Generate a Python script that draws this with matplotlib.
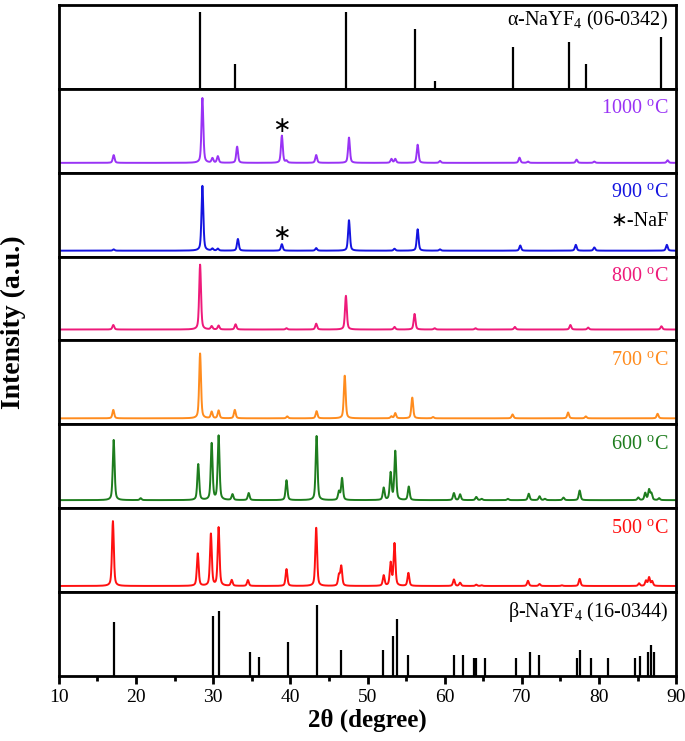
import numpy as np
import matplotlib
matplotlib.use("Agg")
import matplotlib.pyplot as plt
from matplotlib.ticker import MultipleLocator

plt.rcParams['font.family'] = ['Liberation Serif', 'DejaVu Sans']
plt.rcParams['mathtext.fontset'] = 'custom'
plt.rcParams['mathtext.rm'] = 'Liberation Serif'

# --- reference cards (stick patterns) ---
alpha_pos = [28.35, 32.8, 47.2, 56.1, 58.8, 68.9, 76.1, 78.3, 88.0]
alpha_int = [100, 33, 100, 78, 11, 55, 61, 33, 67]

beta_pos = [17.2, 30.0, 30.8, 34.8, 35.9, 39.7, 43.5, 46.6, 52.0, 53.3, 53.8,
            55.3, 61.2, 62.4, 63.8, 64.1, 65.2, 69.2, 71.0, 72.2, 77.1, 77.5,
            79.0, 81.2, 84.7, 85.3, 86.4, 86.7, 87.2]
beta_int = [76, 84, 92, 34, 27, 48, 100, 36, 36, 56, 80,
            30, 29, 29, 25, 25, 25, 25, 34, 29, 25, 36,
            25, 25, 25, 28, 34, 44, 34]

# --- measured patterns: peak positions (2theta) and heights ---
pk_1000 = [17.1, 28.6, 29.9, 30.6, 33.1, 38.9, 39.5, 43.35, 47.6, 53.1, 53.6,
           56.5, 59.4, 69.7, 70.8, 77.1, 79.4, 88.9]
in_1000 = [12, 100, 7, 10, 25, 42, 3, 12, 39, 6, 6,
           28, 3, 8, 2, 5, 2, 4]

pk_900 = [17.1, 28.6, 29.9, 30.6, 33.2, 38.9, 43.35, 47.6, 53.5, 56.5, 59.4,
          69.8, 77.0, 79.4, 88.8]
in_900 = [2, 100, 3, 3, 18, 10, 4, 47, 3, 33, 2,
          8, 9, 5, 9]

pk_800 = [17.05, 28.3, 29.8, 30.7, 32.9, 39.5, 43.35, 47.2, 53.5, 56.1, 58.7,
          64.0, 69.1, 76.3, 78.6, 88.1]
in_800 = [7, 100, 5, 6, 8, 2, 9, 52, 4, 24, 2,
          2, 4, 7, 3, 5]

pk_700 = [17.05, 28.3, 29.8, 30.7, 32.8, 39.6, 43.4, 47.05, 53.1, 53.6, 55.8,
          58.5, 68.8, 76.0, 78.3, 87.6]
in_700 = [13, 100, 10, 12, 13, 3, 11, 66, 3, 8, 32,
          2, 6, 9, 3, 7]

pk_600 = [17.1, 20.6, 28.06, 29.8, 30.7, 32.5, 34.6, 39.5, 43.4, 46.3, 46.7,
          52.1, 53.0, 53.6, 55.35, 61.2, 62.0, 64.1, 64.8, 68.2, 70.9, 72.3,
          73.0, 75.4, 77.5, 85.1, 86.0, 86.5, 86.8, 87.8]
in_600 = [94, 3, 56, 88, 100, 9, 11, 31, 100, 13, 34,
          19, 42, 76, 21, 11, 9, 5, 2, 2, 10, 6,
          2, 4, 15, 4, 11, 16, 10, 3]

pk_500 = [17.0, 28.0, 29.7, 30.7, 32.4, 34.5, 39.5, 43.35, 46.3, 46.6,
          52.1, 53.0, 53.5, 55.3, 61.2, 62.0, 64.1, 64.8, 70.8, 72.3, 75.2,
          77.5, 85.2, 86.1, 86.5, 86.9]
in_500 = [100, 50, 80, 90, 9, 9, 26, 90, 16, 30,
          16, 35, 65, 20, 10, 5, 2, 1, 8, 3, 1,
          11, 4, 8, 13, 7]

samples = [
    ("1000 $^{\\mathrm{o}}$C", pk_1000, in_1000, '#9933F5', 10),
    ("900 $^{\\mathrm{o}}$C", pk_900, in_900, '#1414E0', 6),
    ("800 $^{\\mathrm{o}}$C", pk_800, in_800, '#EE1A7A', 11),
    ("700 $^{\\mathrm{o}}$C", pk_700, in_700, '#FF8C1E', 6),
    ("600 $^{\\mathrm{o}}$C", pk_600, in_600, '#1E7D1E', 8),
    ("500 $^{\\mathrm{o}}$C", pk_500, in_500, '#FF1010', 6),
]

tth = np.arange(10, 90.01, 0.02)


def pattern(pos, inten, fwhm=0.28, eta=0.5):
    # pseudo-Voigt sum of the read-off peaks
    y = np.zeros_like(tth)
    s = fwhm / 2.3548
    g = fwhm / 2
    for p, h in zip(pos, inten):
        G = np.exp(-0.5 * ((tth - p) / s) ** 2)
        L = g ** 2 / ((tth - p) ** 2 + g ** 2)
        y += h * (eta * L + (1 - eta) * G)
    return y


fig = plt.figure(figsize=(6.85, 7.41), dpi=100)
gs = fig.add_gridspec(8, 1, hspace=0, left=0.086, right=0.987, top=0.993, bottom=0.088)
axes = [fig.add_subplot(gs[i]) for i in range(8)]

PANEL_PX = 84.0
PEAK_PX = 65.0

for ax in axes:
    ax.set_xlim(10, 90)
    ax.set_yticks([])
    for sp in ax.spines.values():
        sp.set_linewidth(2)
    ax.tick_params(axis='x', which='both', bottom=False, labelbottom=False)

# alpha card
ax = axes[0]
ax.vlines(alpha_pos, 0, alpha_int, color='black', lw=1.6)
ax.set_ylim(0, 100 / 0.92)
ax.text(0.987, 0.82, "α-NaYF$_4$ (06-0342)", transform=ax.transAxes,
        ha='right', va='center', fontsize=14.5)

for ax, (lab, pos, inten, col, base) in zip(axes[1:7], samples):
    y = pattern(pos, inten)
    y = y / y.max() * 100
    ax.plot(tth, y, color=col, lw=1.4)
    ax.set_ylim(-base / PEAK_PX * 100, (PANEL_PX - base) / PEAK_PX * 100)
    ax.text(0.987, 0.75, lab, transform=ax.transAxes, ha='right', va='center',
            fontsize=14.5, color=col)

# NaF markers
for ax, (lab, pos, inten, col, base) in zip(axes[1:3], samples[:2]):
    y = pattern(pos, inten)
    y = y / y.max() * 100
    h = y[np.argmin(np.abs(tth - 38.9))]
    ax.annotate('∗', (38.9, h), xytext=(0, 0), textcoords='offset points',
                ha='center', va='bottom', fontsize=16, family='DejaVu Sans')
axes[2].text(0.987, 0.42, "∗-NaF", transform=axes[2].transAxes, ha='right',
             va='center', fontsize=14.5, color='black')

# beta card
ax = axes[7]
ax.vlines(beta_pos, 0, beta_int, color='black', lw=1.6)
ax.set_ylim(0, 100 / 0.845)
ax.text(0.987, 0.76, "β-NaYF$_4$ (16-0344)", transform=ax.transAxes,
        ha='right', va='center', fontsize=14.5)
ax.tick_params(axis='x', which='both', bottom=True, labelbottom=True,
               direction='out', width=2, labelsize=14)
ax.tick_params(axis='x', which='major', length=6)
ax.tick_params(axis='x', which='minor', length=3.5)
ax.xaxis.set_major_locator(MultipleLocator(10))
ax.xaxis.set_minor_locator(MultipleLocator(5))
ax.set_xlabel("2θ (degree)", fontsize=18, fontweight='bold', labelpad=2)

fig.text(0.02, 0.565, "Intensity (a.u.)", rotation=90,
         ha='center', va='center', fontsize=20, fontweight='bold')

fig.savefig("out.png", dpi=100)
